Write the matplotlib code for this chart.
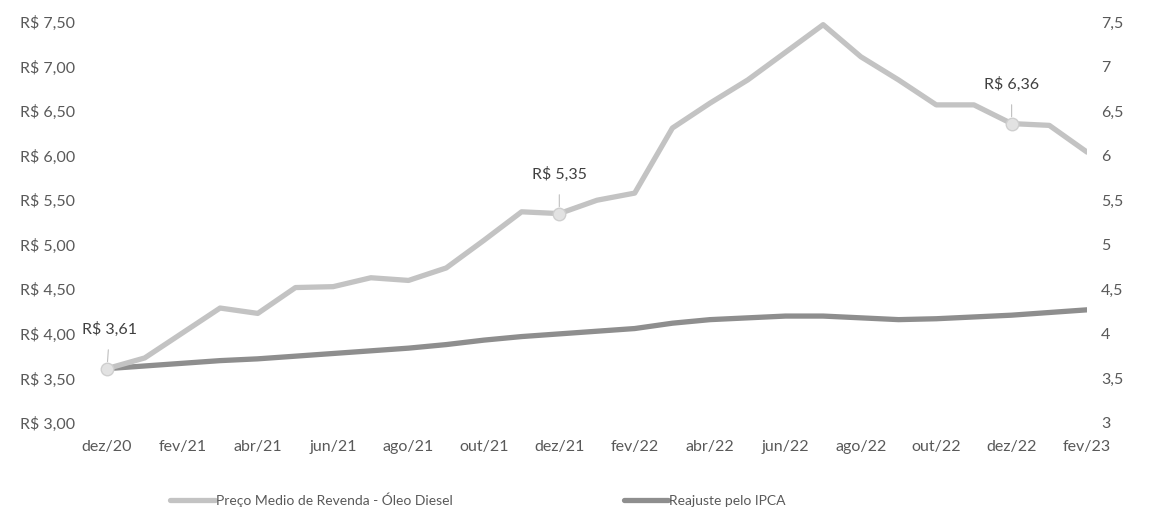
import matplotlib.pyplot as plt
from matplotlib.ticker import FuncFormatter

# meses dez/20 .. fev/23
meses = ['dez/20', 'jan/21', 'fev/21', 'mar/21', 'abr/21', 'mai/21', 'jun/21',
         'jul/21', 'ago/21', 'set/21', 'out/21', 'nov/21', 'dez/21', 'jan/22',
         'fev/22', 'mar/22', 'abr/22', 'mai/22', 'jun/22', 'jul/22', 'ago/22',
         'set/22', 'out/22', 'nov/22', 'dez/22', 'jan/23', 'fev/23']
diesel = [3.61, 3.73, 4.01, 4.29, 4.23, 4.52, 4.53, 4.63, 4.60, 4.74, 5.05, 5.37,
          5.35, 5.50, 5.58, 6.31, 6.59, 6.85, 7.16, 7.47, 7.11, 6.85, 6.57, 6.57,
          6.36, 6.34, 6.04]
ipca = [3.61, 3.64, 3.67, 3.70, 3.72, 3.75, 3.78, 3.81, 3.84, 3.88, 3.93, 3.97,
        4.00, 4.03, 4.06, 4.12, 4.16, 4.18, 4.20, 4.20, 4.18, 4.16, 4.17, 4.19,
        4.21, 4.24, 4.27]
destaques = [0, 12, 24]   # pontos com rotulo
nome_diesel = 'Preço Medio de Revenda - Óleo Diesel'
nome_ipca = 'Reajuste pelo IPCA'

plt.rcParams['font.family'] = ['Lato', 'DejaVu Sans']
cor_txt = '#595959'
cor_diesel = '#C3C3C3'
cor_ipca = '#8E8E8E'

fig = plt.figure(figsize=(11.62, 5.26), dpi=100)
ax = fig.add_axes([107/1162, 1-423/526, (1087-107)/1162, (423-22)/526])
ax2 = ax.twinx()   # so para o eixo da direita (mesma escala)

x = list(range(len(meses)))
l2, = ax.plot(x, ipca, color=cor_ipca, lw=3.8, solid_capstyle='round',
              solid_joinstyle='round', label=nome_ipca, zorder=2)
l1, = ax.plot(x, diesel, color=cor_diesel, lw=3.8, solid_capstyle='round',
              solid_joinstyle='round', label=nome_diesel, zorder=3)

for i in destaques:
    ax.plot(x[i], diesel[i], 'o', ms=9, mfc='#E2E2E2', mec='#CFCFCF', zorder=5,
            clip_on=False)
    txt = 'R$ ' + ('%.2f' % diesel[i]).replace('.', ',')
    dx = 2 if i == 0 else 0
    ax.annotate(txt, (x[i], diesel[i]), xytext=(dx, 28), textcoords='offset points',
                ha='center', va='center', fontsize=11.5, color='#404040',
                arrowprops=dict(arrowstyle='-', color='#BFBFBF', lw=0.8,
                                shrinkA=7, shrinkB=5), zorder=6)

for a in (ax, ax2):
    a.set_ylim(3, 7.5)
    a.set_xlim(0, 26)
    for s in a.spines.values():
        s.set_visible(False)
    a.tick_params(length=0, colors=cor_txt, labelsize=11.5)

ax.set_yticks([3 + 0.5*k for k in range(10)])
ax.yaxis.set_major_formatter(FuncFormatter(lambda v, p: 'R$ ' + ('%.2f' % v).replace('.', ',')))
ax.tick_params(axis='y', pad=23)

ax2.set_yticks([3 + 0.5*k for k in range(10)])
ax2.yaxis.set_major_formatter(FuncFormatter(lambda v, p: ('%g' % v).replace('.', ',')))
ax2.tick_params(axis='y', pad=10)

ax.set_xticks(x[::2])
ax.set_xticklabels(meses[::2])
ax.tick_params(axis='x', pad=12)

fig.legend([l1, l2], [nome_diesel, nome_ipca], loc='center',
           bbox_to_anchor=(478/1162, 1-500/526), ncol=2, frameon=False,
           fontsize=10, labelcolor=cor_txt, handlelength=3.2, handletextpad=0.1,
           columnspacing=12.3)

fig.savefig('out.png', dpi=100)
